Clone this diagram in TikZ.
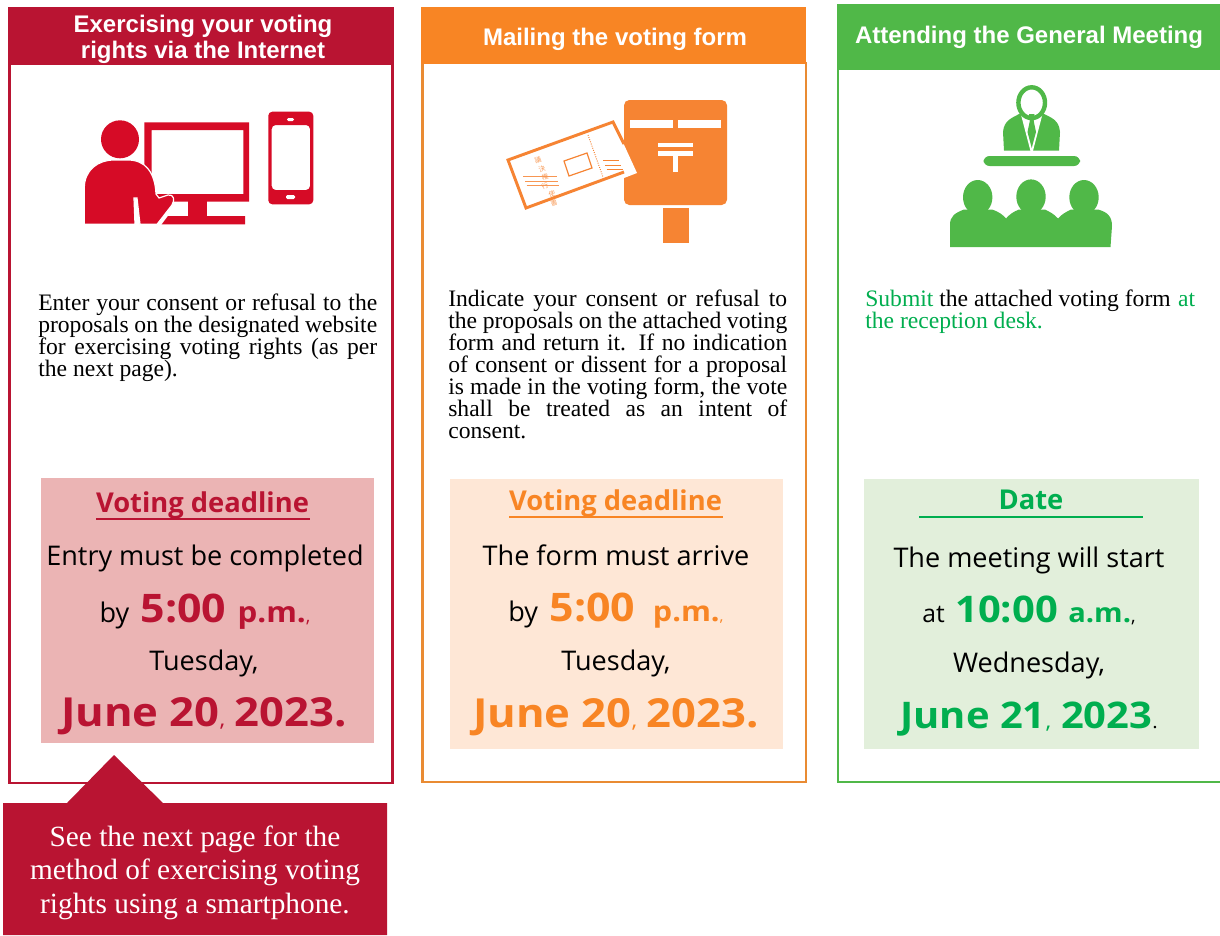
\documentclass[tikz,border=0pt]{standalone}
\usepackage{fontspec}
\setmainfont{Liberation Serif}
\newfontfamily\headf{Liberation Sans}
\newfontfamily\noto{Open Sans}
\newfontfamily\bigf[FakeStretch=1.09]{Open Sans}
\newfontfamily\cjkf{Noto Sans CJK JP}
\definecolor{cred}{HTML}{B91432}
\definecolor{iconred}{HTML}{D60B26}
\definecolor{corange}{HTML}{F88524}
\definecolor{frameor}{HTML}{E98B33}
\definecolor{iconor}{HTML}{F68433}
\definecolor{cgreen}{HTML}{50B848}
\definecolor{tgreen}{HTML}{00AE4F}
\definecolor{bred}{HTML}{EBB4B4}
\definecolor{bor}{HTML}{FEE7D6}
\definecolor{bgr}{HTML}{E2EFDB}
\newcommand{\fs}[2]{\fontsize{#1}{#2}\selectfont}
\tikzset{
 x=0.75pt,y=-0.75pt,
 panel/.style={draw=#1,line width=2.2pt,fill=white},
 band/.style={fill=#1,draw=none},
 headtxt/.style={text=white,font=\headf\bfseries\fs{18}{20},align=center,inner sep=0},
 bodytxt/.style={font=\fs{17.7}{16.5},text width=#1,align=justify,inner sep=0,anchor=north west},
 dl/.style={font=\noto\fs{20.3}{20},inner sep=0,anchor=base},
 big/.style={font=\bigf\bfseries\fs{#1}{#1},inner sep=0,anchor=base},
 dlhead/.style={font=\noto\bfseries\fs{20.5}{20},inner sep=0,anchor=base},
}
\begin{document}
\begin{tikzpicture}
\useasboundingbox (0,0) rectangle (1220,935);
\fill[white] (0,0) rectangle (1220,935);
% --- panels
\draw[panel=cred] (9.5,64) rectangle (392.5,783);
\draw[panel=frameor] (422.5,63) rectangle (806,782);
\draw[panel=cgreen] (838,69) -- (838,782) -- (1220,782);
\fill[band=cred] (8,7) rectangle (394,65);
\fill[band=corange] (421,7) rectangle (806,64);
\fill[band=cgreen] (837,4) rectangle (1220,70);
\node[headtxt] (h1) at (203,39.5) {Exercising your voting\\rights via the Internet};
\node[headtxt] (h2) at (615,39) {Mailing the voting form};
\node[headtxt] (h3) at (1029,37) {Attending the General Meeting};
% --- red icon
\fill[iconred] (144.3,122.3) -- (249,122.3) -- (249,201.7) -- (150,201.7) -- (150,194) -- (243.3,194) -- (243.3,130) -- (151.7,130) -- (151.7,175) -- (144.3,175) -- cycle;
\fill[iconred] (187.7,200) rectangle (206.7,217);
\fill[iconred] (168,216) -- (245,216) -- (245,224.3) -- (161.7,224.3) -- cycle;
\fill[iconred] (120,139.3) circle (19);
\fill[iconred,draw=white,line width=.9pt] (84.3,224.3) -- (84.3,188) .. controls (84.3,170) and (98,160) .. (114,160) -- (128,160) .. controls (145,160) and (155,172) .. (156,194) -- (159,198) -- (168,195) .. controls (174,194) and (175,200) .. (172,205) -- (157,224.3) -- (140,224.3) -- (137,198) -- (134,198) -- (135,224.3) -- cycle;
\fill[iconred,even odd rule,rounded corners=3] (268.3,111.7) rectangle (313.3,204.3) (271.7,125) -- (310,125) -- (310,190) -- (271.7,190) -- cycle;
\fill[white,rounded corners=1] (287,118) rectangle (294,121);
\fill[white,rounded corners=1] (286,195) rectangle (295,199);
% --- orange icon
\fill[iconor,rounded corners=4] (624,100) rectangle (727,205);
\fill[iconor] (663,208) rectangle (689,243);
\fill[white] (630.3,120) rectangle (673.3,128);
\fill[white] (678.3,120) rectangle (721,128);
\fill[white] (657.7,143.3) rectangle (693.3,147.3);
\fill[white] (657.7,151) rectangle (693.3,156);
\fill[white] (672.7,156) rectangle (678.3,172.3);
\fill[white] (620,136) -- (637,173) -- (624,178) -- (610,170) -- cycle;
\coordinate (cA) at (508,160);
\coordinate (cB) at (613,122);
\coordinate (cC) at (526,208);
\coordinate (cD) at (624,144);
\coordinate (cE) at (624,172);
\draw[iconor,line width=2.2pt,line join=miter] (cD) -- (cB) -- (cA) -- (cC) -- (cE);
\draw[iconor,line width=.9pt] (564,161) -- (587,153) -- (592,168) -- (569,176) -- cycle;
\draw[iconor,line width=.7pt,densely dotted] (588,135) -- (603,177);
\draw[iconor,line width=.75pt] (603.3,160.7) -- (619.3,160.7) (605,165.3) -- (621,165.3) (606.7,169.7) -- (622.7,169.7);
\foreach \px/\py/\ch in {538/160/議,542/169/決,545/177/権,545/186/行,552/194/使,554/203/書}
  \node[text=iconor!80,font=\cjkf\fs{5}{6},inner sep=0,rotate=19] (k\ch) at (\px,\py) {\ch};
\draw[iconor!85,line width=.75pt] (523.3,176.7) -- (556.7,176.7) (525,181) -- (558.3,181) (526.7,185.7) -- (559.3,185.7);
% --- green icon
\fill[cgreen] (1004,150.7) -- (1003,132) .. controls (1004,120) and (1012,118) .. (1021,113) -- (1042,113) .. controls (1052,118) and (1059,120) .. (1060,132) -- (1059,150.7) -- cycle;
\fill[white] (1020,111) -- (1031.7,155.7) -- (1043.3,111) -- cycle;
\fill[cgreen] (1029,114) -- (1034.5,114) -- (1033.7,121) -- (1036,132) -- (1031.7,148) -- (1027.5,132) -- (1029.8,121) -- cycle;
\draw[cgreen,line width=3.3pt] (1031.7,102.7) ellipse (13.3 and 15.4);
\fill[cgreen,rounded corners=4.5] (983.5,156) rectangle (1080,166);
\foreach \hx/\hy in {977.7/197.3,1031/196.7,1084/197.3}
  \fill[cgreen] (\hx,\hy) ellipse (14.7 and 17.3);
\fill[cgreen] (950,247) -- (950,225) .. controls (950,216) and (955,213) .. (964,209.5) -- (992,209.5) .. controls (999,212) and (1002,214) .. (1006,218.5) .. controls (1010,214) and (1013,212) .. (1019,209.5) -- (1045,209.5) .. controls (1050,212) and (1054,214) .. (1058,218.5) .. controls (1062,214) and (1066,212) .. (1071,209.5) -- (1098,209.5) .. controls (1107,212) and (1112,216) .. (1112,226) -- (1110.5,247) -- cycle;
% --- body texts
\node[bodytxt=339*0.75pt] (t1) at (38,294) {Enter your consent or refusal to the\linebreak proposals on the designated website\linebreak for exercising voting rights (as per\linebreak the next page).};
\node[bodytxt=339*0.75pt] (t2) at (448,290) {Indicate your consent or refusal to\linebreak the proposals on the attached voting\linebreak form and return it. If no indication\linebreak of consent or dissent for a proposal\linebreak is made in the voting form, the vote\linebreak shall be treated as an intent of\linebreak consent.};
\node[bodytxt=330*0.75pt] (t3) at (865,290) {\textcolor{tgreen}{Submit} the attached voting form\hfill\textcolor{tgreen}{at}\\\textcolor{tgreen}{the reception desk.}};
% --- deadline boxes
\fill[bred] (41,478) rectangle (374,743);
\fill[bor] (450,479) rectangle (783,749);
\fill[bgr] (864,479) rectangle (1199,749);
% box 1
\node[dlhead,text=cred] (d1) at (202.5,512) {Voting deadline};
\draw[cred,line width=1.5pt] (96,519) -- (310,519);
\node[dl] (d1a) at (205,565) {Entry must be completed};
\node[dl] (d1b) at (205,622) {by\, {\bigf\bfseries\fs{29.5}{30}\textcolor{cred}{5:00} \fs{21.5}{22}\textcolor{cred}{p.m.}}\textcolor{cred}{\fs{14}{14},}};
\node[dl] (d1c) at (204,670) {Tuesday,};
\node[big=30,text=cred] (d1d) at (204,726.5) {June 20\fs{16}{16}\mdseries,\, \bfseries\fs{30}{30}2023.};
% box 2
\node[dlhead,text=corange] (d2) at (615.5,510) {Voting deadline};
\draw[corange,line width=1.5pt] (509,516.5) -- (723,516.5);
\node[dl] (d2a) at (616,565) {The form must arrive};
\node[dl] (d2b) at (616,621) {by\, {\bigf\bfseries\fs{29.5}{30}\textcolor{corange}{5:00} \,\fs{21}{22}\textcolor{corange}{p.m.}\textcolor{corange}{\mdseries\fs{11}{11},}}};
\node[dl] (d2c) at (616,670) {Tuesday,};
\node[big=30,text=corange] (d2d) at (616,727) {June 20\fs{16}{16}\mdseries,\, \bfseries\fs{30}{30}2023.};
% box 3
\node[dlhead,text=tgreen] (d3) at (1031,509) {Date};
\draw[tgreen,line width=1.5pt] (919,516.5) -- (1143,516.5);
\node[dl] (d3a) at (1029,567) {The meeting will start};
\node[dl,font=\noto\fs{18.5}{20}] (d3b) at (1029,622) {at\, {\bigf\bfseries\fs{27.5}{30}\textcolor{tgreen}{10:00} \fs{20}{22}\textcolor{tgreen}{a.m.}}\fs{14}{14},};
\node[dl] (d3c) at (1029,672) {Wednesday,};
\node[big=27.5,text=tgreen] (d3d) at (1029,728) {June 21\fs{16}{16}\mdseries,\, \bfseries\fs{27.5}{28}2023\textcolor{black}{\mdseries\fs{14}{14}.}};
% --- note
\fill[cred] (3,803) -- (67,803) -- (114,755) -- (163,803) -- (387,803) -- (387,935) -- (3,935) -- cycle;
\node[text=white,font=\fs{22}{25},align=center,inner sep=0] (note) at (195,872.5) {See the next page for the\\method of exercising voting\\rights using a smartphone.};
\end{tikzpicture}
\end{document}
